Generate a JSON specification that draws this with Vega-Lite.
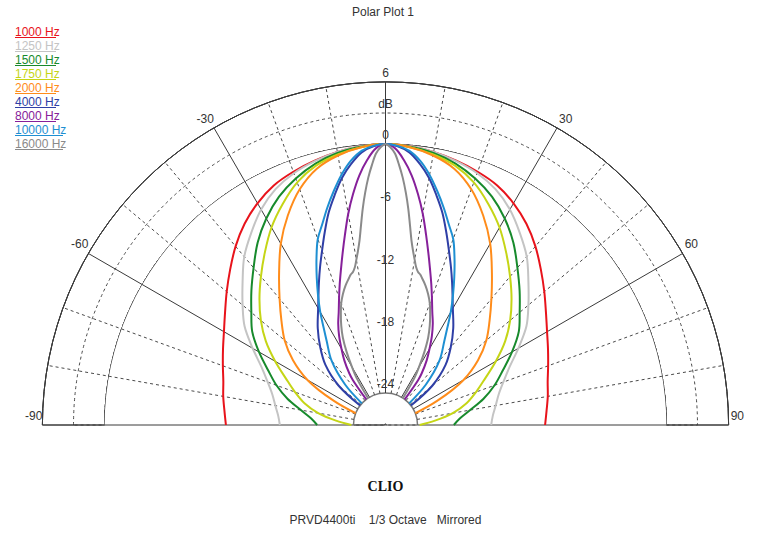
{
"$schema":"https://vega.github.io/schema/vega-lite/v6.json",
"width":765,"height":536,
"autosize":{"type":"fit","contains":"padding"},
"padding":0,
"background":"#ffffff",
"config":{"view":{"stroke":null},"font":"Liberation Sans"},
"datasets":{
"curves":[
{"f":"1000 Hz","a":-90,"db":-11.7},{"f":"1000 Hz","a":-85,"db":-11.5},{"f":"1000 Hz","a":-80,"db":-11.2},{"f":"1000 Hz","a":-75,"db":-10.9},{"f":"1000 Hz","a":-70,"db":-10.4},{"f":"1000 Hz","a":-65,"db":-9.8},{"f":"1000 Hz","a":-60,"db":-9.1},{"f":"1000 Hz","a":-55,"db":-8.2},{"f":"1000 Hz","a":-50,"db":-7.1},{"f":"1000 Hz","a":-45,"db":-5.9},{"f":"1000 Hz","a":-40,"db":-4.6},{"f":"1000 Hz","a":-35,"db":-3.4},{"f":"1000 Hz","a":-30,"db":-2.4},{"f":"1000 Hz","a":-25,"db":-1.6},{"f":"1000 Hz","a":-20,"db":-1.1},{"f":"1000 Hz","a":-15,"db":-0.7},{"f":"1000 Hz","a":-10,"db":-0.35},{"f":"1000 Hz","a":-5,"db":-0.1},{"f":"1000 Hz","a":0,"db":0},{"f":"1000 Hz","a":5,"db":-0.1},{"f":"1000 Hz","a":10,"db":-0.35},{"f":"1000 Hz","a":15,"db":-0.7},{"f":"1000 Hz","a":20,"db":-1.1},{"f":"1000 Hz","a":25,"db":-1.6},{"f":"1000 Hz","a":30,"db":-2.4},{"f":"1000 Hz","a":35,"db":-3.4},{"f":"1000 Hz","a":40,"db":-4.6},{"f":"1000 Hz","a":45,"db":-5.9},{"f":"1000 Hz","a":50,"db":-7.1},{"f":"1000 Hz","a":55,"db":-8.2},{"f":"1000 Hz","a":60,"db":-9.1},{"f":"1000 Hz","a":65,"db":-9.8},{"f":"1000 Hz","a":70,"db":-10.4},{"f":"1000 Hz","a":75,"db":-10.9},{"f":"1000 Hz","a":80,"db":-11.2},{"f":"1000 Hz","a":85,"db":-11.5},{"f":"1000 Hz","a":90,"db":-11.7},
{"f":"1250 Hz","a":-90,"db":-16.9},{"f":"1250 Hz","a":-85,"db":-16.7},{"f":"1250 Hz","a":-80,"db":-16.3},{"f":"1250 Hz","a":-75,"db":-15.8},{"f":"1250 Hz","a":-70,"db":-15.0},{"f":"1250 Hz","a":-65,"db":-13.9},{"f":"1250 Hz","a":-60,"db":-12.3},{"f":"1250 Hz","a":-55,"db":-10.5},{"f":"1250 Hz","a":-50,"db":-9.1},{"f":"1250 Hz","a":-45,"db":-7.6},{"f":"1250 Hz","a":-40,"db":-5.9},{"f":"1250 Hz","a":-35,"db":-4.5},{"f":"1250 Hz","a":-30,"db":-3.1},{"f":"1250 Hz","a":-25,"db":-2.0},{"f":"1250 Hz","a":-20,"db":-1.25},{"f":"1250 Hz","a":-15,"db":-0.75},{"f":"1250 Hz","a":-10,"db":-0.35},{"f":"1250 Hz","a":-5,"db":-0.1},{"f":"1250 Hz","a":0,"db":0},{"f":"1250 Hz","a":5,"db":-0.1},{"f":"1250 Hz","a":10,"db":-0.35},{"f":"1250 Hz","a":15,"db":-0.75},{"f":"1250 Hz","a":20,"db":-1.25},{"f":"1250 Hz","a":25,"db":-2.0},{"f":"1250 Hz","a":30,"db":-3.1},{"f":"1250 Hz","a":35,"db":-4.5},{"f":"1250 Hz","a":40,"db":-5.9},{"f":"1250 Hz","a":45,"db":-7.6},{"f":"1250 Hz","a":50,"db":-9.1},{"f":"1250 Hz","a":55,"db":-10.5},{"f":"1250 Hz","a":60,"db":-12.3},{"f":"1250 Hz","a":65,"db":-13.9},{"f":"1250 Hz","a":70,"db":-15.0},{"f":"1250 Hz","a":75,"db":-15.8},{"f":"1250 Hz","a":80,"db":-16.3},{"f":"1250 Hz","a":85,"db":-16.7},{"f":"1250 Hz","a":90,"db":-16.9},
{"f":"1500 Hz","a":-90,"db":-20.5},{"f":"1500 Hz","a":-85,"db":-19.9},{"f":"1500 Hz","a":-80,"db":-18.8},{"f":"1500 Hz","a":-75,"db":-17.3},{"f":"1500 Hz","a":-70,"db":-15.9},{"f":"1500 Hz","a":-65,"db":-14.6},{"f":"1500 Hz","a":-60,"db":-13.0},{"f":"1500 Hz","a":-55,"db":-11.4},{"f":"1500 Hz","a":-50,"db":-10.2},{"f":"1500 Hz","a":-45,"db":-8.8},{"f":"1500 Hz","a":-40,"db":-7.3},{"f":"1500 Hz","a":-35,"db":-5.6},{"f":"1500 Hz","a":-30,"db":-4.1},{"f":"1500 Hz","a":-25,"db":-2.8},{"f":"1500 Hz","a":-20,"db":-1.8},{"f":"1500 Hz","a":-15,"db":-1.0},{"f":"1500 Hz","a":-10,"db":-0.45},{"f":"1500 Hz","a":-5,"db":-0.15},{"f":"1500 Hz","a":0,"db":0},{"f":"1500 Hz","a":5,"db":-0.15},{"f":"1500 Hz","a":10,"db":-0.45},{"f":"1500 Hz","a":15,"db":-1.0},{"f":"1500 Hz","a":20,"db":-1.8},{"f":"1500 Hz","a":25,"db":-2.8},{"f":"1500 Hz","a":30,"db":-4.1},{"f":"1500 Hz","a":35,"db":-5.6},{"f":"1500 Hz","a":40,"db":-7.3},{"f":"1500 Hz","a":45,"db":-8.8},{"f":"1500 Hz","a":50,"db":-10.2},{"f":"1500 Hz","a":55,"db":-11.4},{"f":"1500 Hz","a":60,"db":-13.0},{"f":"1500 Hz","a":65,"db":-14.6},{"f":"1500 Hz","a":70,"db":-15.9},{"f":"1500 Hz","a":75,"db":-17.3},{"f":"1500 Hz","a":80,"db":-18.8},{"f":"1500 Hz","a":85,"db":-19.9},{"f":"1500 Hz","a":90,"db":-20.5},
{"f":"1750 Hz","a":-90,"db":-23.8},{"f":"1750 Hz","a":-85,"db":-22.3},{"f":"1750 Hz","a":-80,"db":-20.5},{"f":"1750 Hz","a":-75,"db":-19.0},{"f":"1750 Hz","a":-70,"db":-17.8},{"f":"1750 Hz","a":-65,"db":-16.5},{"f":"1750 Hz","a":-60,"db":-14.8},{"f":"1750 Hz","a":-55,"db":-13.0},{"f":"1750 Hz","a":-50,"db":-11.4},{"f":"1750 Hz","a":-45,"db":-9.9},{"f":"1750 Hz","a":-40,"db":-8.4},{"f":"1750 Hz","a":-35,"db":-6.8},{"f":"1750 Hz","a":-30,"db":-5.1},{"f":"1750 Hz","a":-25,"db":-3.6},{"f":"1750 Hz","a":-20,"db":-2.2},{"f":"1750 Hz","a":-15,"db":-1.2},{"f":"1750 Hz","a":-10,"db":-0.6},{"f":"1750 Hz","a":-5,"db":-0.2},{"f":"1750 Hz","a":0,"db":0},{"f":"1750 Hz","a":5,"db":-0.2},{"f":"1750 Hz","a":10,"db":-0.6},{"f":"1750 Hz","a":15,"db":-1.2},{"f":"1750 Hz","a":20,"db":-2.2},{"f":"1750 Hz","a":25,"db":-3.6},{"f":"1750 Hz","a":30,"db":-5.1},{"f":"1750 Hz","a":35,"db":-6.8},{"f":"1750 Hz","a":40,"db":-8.4},{"f":"1750 Hz","a":45,"db":-9.9},{"f":"1750 Hz","a":50,"db":-11.4},{"f":"1750 Hz","a":55,"db":-13.0},{"f":"1750 Hz","a":60,"db":-14.8},{"f":"1750 Hz","a":65,"db":-16.5},{"f":"1750 Hz","a":70,"db":-17.8},{"f":"1750 Hz","a":75,"db":-19.0},{"f":"1750 Hz","a":80,"db":-20.5},{"f":"1750 Hz","a":85,"db":-22.3},{"f":"1750 Hz","a":90,"db":-23.8},
{"f":"2000 Hz","a":-68.5,"db":-24},{"f":"2000 Hz","a":-65,"db":-21.6},{"f":"2000 Hz","a":-60,"db":-18.4},{"f":"2000 Hz","a":-55,"db":-16.2},{"f":"2000 Hz","a":-50,"db":-14.4},{"f":"2000 Hz","a":-45,"db":-12.9},{"f":"2000 Hz","a":-40,"db":-11.2},{"f":"2000 Hz","a":-35,"db":-9.2},{"f":"2000 Hz","a":-30,"db":-6.9},{"f":"2000 Hz","a":-25,"db":-4.8},{"f":"2000 Hz","a":-20,"db":-2.9},{"f":"2000 Hz","a":-15,"db":-1.5},{"f":"2000 Hz","a":-10,"db":-0.7},{"f":"2000 Hz","a":-5,"db":-0.2},{"f":"2000 Hz","a":0,"db":0},{"f":"2000 Hz","a":5,"db":-0.2},{"f":"2000 Hz","a":10,"db":-0.7},{"f":"2000 Hz","a":15,"db":-1.5},{"f":"2000 Hz","a":20,"db":-2.9},{"f":"2000 Hz","a":25,"db":-4.8},{"f":"2000 Hz","a":30,"db":-6.9},{"f":"2000 Hz","a":35,"db":-9.2},{"f":"2000 Hz","a":40,"db":-11.2},{"f":"2000 Hz","a":45,"db":-12.9},{"f":"2000 Hz","a":50,"db":-14.4},{"f":"2000 Hz","a":55,"db":-16.2},{"f":"2000 Hz","a":60,"db":-18.4},{"f":"2000 Hz","a":65,"db":-21.6},{"f":"2000 Hz","a":68.5,"db":-24},
{"f":"4000 Hz","a":-52.6,"db":-24},{"f":"4000 Hz","a":-50,"db":-21.2},{"f":"4000 Hz","a":-45,"db":-18.9},{"f":"4000 Hz","a":-40,"db":-17.3},{"f":"4000 Hz","a":-35,"db":-15.7},{"f":"4000 Hz","a":-30,"db":-14.1},{"f":"4000 Hz","a":-25,"db":-11.9},{"f":"4000 Hz","a":-22.5,"db":-10.6},{"f":"4000 Hz","a":-20,"db":-9.2},{"f":"4000 Hz","a":-17.5,"db":-7.6},{"f":"4000 Hz","a":-15,"db":-5.9},{"f":"4000 Hz","a":-12.5,"db":-4.4},{"f":"4000 Hz","a":-10,"db":-2.9},{"f":"4000 Hz","a":-7.5,"db":-1.7},{"f":"4000 Hz","a":-5,"db":-0.7},{"f":"4000 Hz","a":-2.5,"db":-0.2},{"f":"4000 Hz","a":0,"db":0},{"f":"4000 Hz","a":2.5,"db":-0.2},{"f":"4000 Hz","a":5,"db":-0.7},{"f":"4000 Hz","a":7.5,"db":-1.7},{"f":"4000 Hz","a":10,"db":-2.9},{"f":"4000 Hz","a":12.5,"db":-4.4},{"f":"4000 Hz","a":15,"db":-5.9},{"f":"4000 Hz","a":17.5,"db":-7.6},{"f":"4000 Hz","a":20,"db":-9.2},{"f":"4000 Hz","a":22.5,"db":-10.6},{"f":"4000 Hz","a":25,"db":-11.9},{"f":"4000 Hz","a":30,"db":-14.1},{"f":"4000 Hz","a":35,"db":-15.7},{"f":"4000 Hz","a":40,"db":-17.3},{"f":"4000 Hz","a":45,"db":-18.9},{"f":"4000 Hz","a":50,"db":-21.2},{"f":"4000 Hz","a":52.6,"db":-24},
{"f":"8000 Hz","a":-37,"db":-24},{"f":"8000 Hz","a":-36,"db":-21.7},{"f":"8000 Hz","a":-35,"db":-21.0},{"f":"8000 Hz","a":-32.5,"db":-19.7},{"f":"8000 Hz","a":-30,"db":-18.6},{"f":"8000 Hz","a":-27.5,"db":-17.4},{"f":"8000 Hz","a":-25,"db":-16.3},{"f":"8000 Hz","a":-22.5,"db":-15.3},{"f":"8000 Hz","a":-20,"db":-14.0},{"f":"8000 Hz","a":-18,"db":-12.8},{"f":"8000 Hz","a":-16,"db":-11.5},{"f":"8000 Hz","a":-14,"db":-10.0},{"f":"8000 Hz","a":-12,"db":-8.3},{"f":"8000 Hz","a":-10,"db":-6.4},{"f":"8000 Hz","a":-8,"db":-4.6},{"f":"8000 Hz","a":-6,"db":-2.9},{"f":"8000 Hz","a":-4,"db":-1.5},{"f":"8000 Hz","a":-2,"db":-0.4},{"f":"8000 Hz","a":0,"db":0},{"f":"8000 Hz","a":2,"db":-0.4},{"f":"8000 Hz","a":4,"db":-1.5},{"f":"8000 Hz","a":6,"db":-2.9},{"f":"8000 Hz","a":8,"db":-4.6},{"f":"8000 Hz","a":10,"db":-6.4},{"f":"8000 Hz","a":12,"db":-8.3},{"f":"8000 Hz","a":14,"db":-10.0},{"f":"8000 Hz","a":16,"db":-11.5},{"f":"8000 Hz","a":18,"db":-12.8},{"f":"8000 Hz","a":20,"db":-14.0},{"f":"8000 Hz","a":22.5,"db":-15.3},{"f":"8000 Hz","a":25,"db":-16.3},{"f":"8000 Hz","a":27.5,"db":-17.4},{"f":"8000 Hz","a":30,"db":-18.6},{"f":"8000 Hz","a":32.5,"db":-19.7},{"f":"8000 Hz","a":35,"db":-21.0},{"f":"8000 Hz","a":36,"db":-21.7},{"f":"8000 Hz","a":37,"db":-24},
{"f":"10000 Hz","a":-47.5,"db":-24},{"f":"10000 Hz","a":-45,"db":-21.6},{"f":"10000 Hz","a":-40,"db":-19.0},{"f":"10000 Hz","a":-35,"db":-17.2},{"f":"10000 Hz","a":-32.5,"db":-16.0},{"f":"10000 Hz","a":-30,"db":-14.5},{"f":"10000 Hz","a":-27.5,"db":-13.0},{"f":"10000 Hz","a":-25,"db":-11.4},{"f":"10000 Hz","a":-22.5,"db":-9.7},{"f":"10000 Hz","a":-20,"db":-8.0},{"f":"10000 Hz","a":-17.5,"db":-6.8},{"f":"10000 Hz","a":-15,"db":-5.4},{"f":"10000 Hz","a":-12.5,"db":-4.0},{"f":"10000 Hz","a":-10,"db":-2.6},{"f":"10000 Hz","a":-7.5,"db":-1.4},{"f":"10000 Hz","a":-5,"db":-0.55},{"f":"10000 Hz","a":-2.5,"db":-0.15},{"f":"10000 Hz","a":0,"db":0},{"f":"10000 Hz","a":2.5,"db":-0.15},{"f":"10000 Hz","a":5,"db":-0.55},{"f":"10000 Hz","a":7.5,"db":-1.4},{"f":"10000 Hz","a":10,"db":-2.6},{"f":"10000 Hz","a":12.5,"db":-4.0},{"f":"10000 Hz","a":15,"db":-5.4},{"f":"10000 Hz","a":17.5,"db":-6.8},{"f":"10000 Hz","a":20,"db":-8.0},{"f":"10000 Hz","a":22.5,"db":-9.7},{"f":"10000 Hz","a":25,"db":-11.4},{"f":"10000 Hz","a":27.5,"db":-13.0},{"f":"10000 Hz","a":30,"db":-14.5},{"f":"10000 Hz","a":32.5,"db":-16.0},{"f":"10000 Hz","a":35,"db":-17.2},{"f":"10000 Hz","a":40,"db":-19.0},{"f":"10000 Hz","a":45,"db":-21.6},{"f":"10000 Hz","a":47.5,"db":-24},
{"f":"16000 Hz","a":-33,"db":-24},{"f":"16000 Hz","a":-31.5,"db":-21.7},{"f":"16000 Hz","a":-30,"db":-20.6},{"f":"16000 Hz","a":-28,"db":-19.1},{"f":"16000 Hz","a":-26,"db":-17.7},{"f":"16000 Hz","a":-24,"db":-16.6},{"f":"16000 Hz","a":-22,"db":-15.6},{"f":"16000 Hz","a":-20,"db":-14.6},{"f":"16000 Hz","a":-18,"db":-13.8},{"f":"16000 Hz","a":-16,"db":-13.1},{"f":"16000 Hz","a":-14,"db":-12.5},{"f":"16000 Hz","a":-13,"db":-12.2},{"f":"16000 Hz","a":-12,"db":-12.0},{"f":"16000 Hz","a":-11,"db":-11.6},{"f":"16000 Hz","a":-10,"db":-10.9},{"f":"16000 Hz","a":-9,"db":-10.1},{"f":"16000 Hz","a":-8,"db":-9.1},{"f":"16000 Hz","a":-7,"db":-7.7},{"f":"16000 Hz","a":-6,"db":-6.1},{"f":"16000 Hz","a":-5,"db":-4.6},{"f":"16000 Hz","a":-4,"db":-3.2},{"f":"16000 Hz","a":-3,"db":-2.0},{"f":"16000 Hz","a":-2,"db":-0.9},{"f":"16000 Hz","a":-1,"db":-0.3},{"f":"16000 Hz","a":0,"db":0},{"f":"16000 Hz","a":1,"db":-0.3},{"f":"16000 Hz","a":2,"db":-0.9},{"f":"16000 Hz","a":3,"db":-2.0},{"f":"16000 Hz","a":4,"db":-3.2},{"f":"16000 Hz","a":5,"db":-4.6},{"f":"16000 Hz","a":6,"db":-6.1},{"f":"16000 Hz","a":7,"db":-7.7},{"f":"16000 Hz","a":8,"db":-9.1},{"f":"16000 Hz","a":9,"db":-10.1},{"f":"16000 Hz","a":10,"db":-10.9},{"f":"16000 Hz","a":11,"db":-11.6},{"f":"16000 Hz","a":12,"db":-12.0},{"f":"16000 Hz","a":13,"db":-12.2},{"f":"16000 Hz","a":14,"db":-12.5},{"f":"16000 Hz","a":16,"db":-13.1},{"f":"16000 Hz","a":18,"db":-13.8},{"f":"16000 Hz","a":20,"db":-14.6},{"f":"16000 Hz","a":22,"db":-15.6},{"f":"16000 Hz","a":24,"db":-16.6},{"f":"16000 Hz","a":26,"db":-17.7},{"f":"16000 Hz","a":28,"db":-19.1},{"f":"16000 Hz","a":30,"db":-20.6},{"f":"16000 Hz","a":31.5,"db":-21.7},{"f":"16000 Hz","a":33,"db":-24}
],
"ringsMajor":[{"db":6},{"db":0},{"db":-6},{"db":-12},{"db":-18}],
"ringsMinor":[{"db":3},{"db":-3},{"db":-9},{"db":-15},{"db":-21}],
"hole":[{"db":-24}],
"spokesMajor":[{"a":-90},{"a":-60},{"a":-30},{"a":0},{"a":30},{"a":60},{"a":90}],
"spokesMinor":[{"a":-80},{"a":-70},{"a":-50},{"a":-40},{"a":-20},{"a":-10},{"a":10},{"a":20},{"a":40},{"a":50},{"a":70},{"a":80}],
"radial":[{"t":"6","db":6},{"t":"dB","db":3},{"t":"0","db":0},{"t":"-6","db":-6},{"t":"-12","db":-12},{"t":"-18","db":-18},{"t":"-24","db":-24}],
"angles":[{"t":"-90","a":-90},{"t":"-60","a":-60},{"t":"-30","a":-30},{"t":"30","a":30},{"t":"60","a":60},{"t":"90","a":90}]
},
"layer":[
{"data":{"name":"ringsMajor"},
 "mark":{"type":"arc","fill":"transparent","stroke":"#3a3a3a","strokeWidth":1},
 "encoding":{
  "x":{"datum":0,"type":"quantitative","scale":{"domain":[-37.175,36.596],"nice":false,"zero":false},"axis":null},
  "y":{"datum":0,"type":"quantitative","scale":{"domain":[-10.704,40.984],"nice":false,"zero":false},"axis":null},
  "theta":{"datum":-90,"type":"quantitative","scale":{"domain":[-180,180],"range":[-3.14159265,3.14159265]}},
  "theta2":{"datum":90},
  "radius":{"field":"db","type":"quantitative","scale":{"type":"linear","domain":[-27.09,6],"range":[0,343.1],"zero":false}}}},
{"data":{"name":"ringsMinor"},
 "mark":{"type":"arc","fill":"transparent","stroke":"#4a4a4a","strokeWidth":1,"strokeDash":[3,3]},
 "encoding":{
  "x":{"datum":0,"type":"quantitative","axis":null},"y":{"datum":0,"type":"quantitative","axis":null},
  "theta":{"datum":-90,"type":"quantitative"},
  "theta2":{"datum":90},
  "radius":{"field":"db","type":"quantitative"}}},
{"data":{"name":"hole"},
 "mark":{"type":"arc","fill":"#ffffff","strokeWidth":0},
 "encoding":{
  "x":{"datum":0,"type":"quantitative","axis":null},"y":{"datum":0,"type":"quantitative","axis":null},
  "theta":{"datum":-96,"type":"quantitative"},
  "theta2":{"datum":96},
  "radius":{"field":"db","type":"quantitative"}}},
{"data":{"name":"hole"},
 "mark":{"type":"arc","fill":"transparent","stroke":"#7a7a7a","strokeWidth":1.5},
 "encoding":{
  "x":{"datum":0,"type":"quantitative","axis":null},"y":{"datum":0,"type":"quantitative","axis":null},
  "theta":{"datum":-90,"type":"quantitative"},
  "theta2":{"datum":90},
  "radius":{"field":"db","type":"quantitative"},
  "radius2":{"field":"db"}}},
{"data":{"name":"spokesMajor"},
 "transform":[
  {"calculate":"3.09*sin(datum.a*PI/180)","as":"x"},
  {"calculate":"3.09*cos(datum.a*PI/180)","as":"y"},
  {"calculate":"33.09*sin(datum.a*PI/180)","as":"x2"},
  {"calculate":"33.09*cos(datum.a*PI/180)","as":"y2"}],
 "mark":{"type":"rule","stroke":"#3a3a3a","strokeWidth":1},
 "encoding":{
  "x":{"field":"x","type":"quantitative","scale":{"domain":[-37.175,36.596],"nice":false,"zero":false},"axis":null},
  "y":{"field":"y","type":"quantitative","scale":{"domain":[-10.704,40.984],"nice":false,"zero":false},"axis":null},
  "x2":{"field":"x2"},"y2":{"field":"y2"}}},
{"data":{"name":"spokesMinor"},
 "transform":[
  {"calculate":"3.09*sin(datum.a*PI/180)","as":"x"},
  {"calculate":"3.09*cos(datum.a*PI/180)","as":"y"},
  {"calculate":"33.09*sin(datum.a*PI/180)","as":"x2"},
  {"calculate":"33.09*cos(datum.a*PI/180)","as":"y2"}],
 "mark":{"type":"rule","stroke":"#4a4a4a","strokeWidth":1,"strokeDash":[3,3]},
 "encoding":{
  "x":{"field":"x","type":"quantitative","axis":null},
  "y":{"field":"y","type":"quantitative","axis":null},
  "x2":{"field":"x2"},"y2":{"field":"y2"}}},
{"data":{"name":"curves"},
 "transform":[
  {"calculate":"(datum.db+27.09)*sin(datum.a*PI/180)","as":"x"},
  {"calculate":"(datum.db+27.09)*cos(datum.a*PI/180)","as":"y"}],
 "mark":{"type":"line","strokeWidth":2,"interpolate":"catmull-rom"},
 "encoding":{
  "x":{"field":"x","type":"quantitative","scale":{"domain":[-37.175,36.596],"nice":false,"zero":false},"axis":null},
  "y":{"field":"y","type":"quantitative","scale":{"domain":[-10.704,40.984],"nice":false,"zero":false},"axis":null},
  "order":{"field":"a","type":"quantitative"},
  "color":{"field":"f","type":"nominal",
   "scale":{"domain":["1000 Hz","1250 Hz","1500 Hz","1750 Hz","2000 Hz","4000 Hz","8000 Hz","10000 Hz","16000 Hz"],
            "range":["#e8131b","#c4c4c4","#178a2c","#c5d516","#ff8c1a","#2f3fa6","#86209a","#1e8fd2","#8a8a8a"]},
   "legend":{"orient":"none","legendX":5,"legendY":26,"title":null,"padding":0,
    "labelFont":"Liberation Sans","labelFontSize":12,"labelOffset":-2,"rowPadding":0,
    "symbolSize":4,"symbolType":"M4,5.5H45","symbolStrokeWidth":1,"symbolFillColor":"transparent",
    "encode":{
     "labels":{"update":{"fill":{"scale":"color","field":"value"}}},
     "symbols":{"update":{"shape":{"signal":"length(datum.label) > 7 ? 'M4,5.5H52' : 'M4,5.5H45'"},"stroke":{"scale":"color","field":"value"},"fill":{"value":"transparent"}}}}}}}},
{"data":{"name":"radial"},
 "transform":[{"calculate":"datum.db+27.09","as":"y"}],
 "mark":{"type":"text","align":"center","baseline":"bottom","dy":-2,"fontSize":12,"fill":"#333333","font":"Liberation Sans"},
 "encoding":{
  "x":{"datum":0,"type":"quantitative","axis":null},
  "y":{"field":"y","type":"quantitative","axis":null},
  "text":{"field":"t"}}},
{"data":{"name":"angles"},
 "transform":[{"filter":"datum.a < 0"},
  {"calculate":"33.09*sin(datum.a*PI/180)","as":"x"},
  {"calculate":"33.09*cos(datum.a*PI/180)","as":"y"}],
 "mark":{"type":"text","align":"right","baseline":"bottom","dy":-2,"dx":0,"fontSize":12,"fill":"#333333","font":"Liberation Sans"},
 "encoding":{
  "x":{"field":"x","type":"quantitative","axis":null},
  "y":{"field":"y","type":"quantitative","axis":null},
  "text":{"field":"t"}}},
{"data":{"name":"angles"},
 "transform":[{"filter":"datum.a > 0"},
  {"calculate":"33.09*sin(datum.a*PI/180)","as":"x"},
  {"calculate":"33.09*cos(datum.a*PI/180)","as":"y"}],
 "mark":{"type":"text","align":"left","baseline":"bottom","dy":-2,"dx":2,"fontSize":12,"fill":"#333333","font":"Liberation Sans"},
 "encoding":{
  "x":{"field":"x","type":"quantitative","axis":null},
  "y":{"field":"y","type":"quantitative","axis":null},
  "text":{"field":"t"}}},
{"data":{"values":[{}]},
 "mark":{"type":"text","align":"center","baseline":"middle","fontSize":12,"fill":"#333333","font":"Liberation Sans"},
 "encoding":{"x":{"datum":-0.24,"type":"quantitative","axis":null},"y":{"datum":39.83,"type":"quantitative","axis":null},"text":{"value":"Polar Plot 1"}}},
{"data":{"values":[{}]},
 "mark":{"type":"text","align":"center","baseline":"middle","fontSize":14,"fontWeight":"bold","fill":"#111111","font":"Liberation Serif"},
 "encoding":{"x":{"datum":0,"type":"quantitative","axis":null},"y":{"datum":-5.98,"type":"quantitative","axis":null},"text":{"value":"CLIO"}}},
{"data":{"values":[{}]},
 "mark":{"type":"text","align":"center","baseline":"middle","fontSize":12,"fill":"#333333","font":"Liberation Sans"},
 "encoding":{"x":{"datum":0,"type":"quantitative","axis":null},"y":{"datum":-9.16,"type":"quantitative","axis":null},"text":{"value":"PRVD4400ti\u00a0\u00a0\u00a0 1/3 Octave\u00a0\u00a0 Mirrored"}}}
]
}
